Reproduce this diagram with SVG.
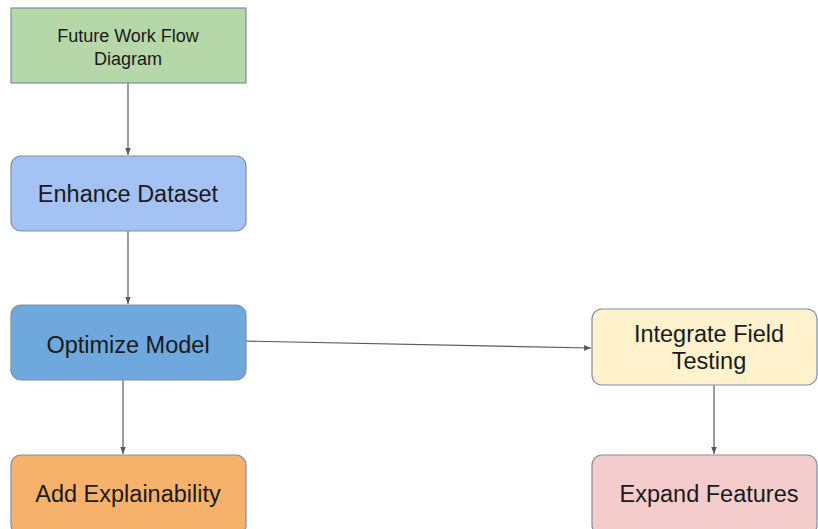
<svg xmlns="http://www.w3.org/2000/svg" width="818" height="529" viewBox="0 0 818 529">
  <defs>
    <marker id="arrow" viewBox="0 0 10 10" refX="10" refY="5" markerWidth="7" markerHeight="7" orient="auto" markerUnits="userSpaceOnUse">
      <path d="M0,1 L10,5 L0,9 z" fill="#595959"/>
    </marker>
    <style>
      .box { stroke: #7f8fa6; stroke-width: 1.2; }
      .lbl { font-family: "Liberation Sans", Arial, sans-serif; fill: #1a1a1a; text-anchor: middle; dominant-baseline: central; }
      .big { font-size: 23.5px; }
      .small { font-size: 18px; }
      .conn { stroke: #595959; stroke-width: 1.2; fill: none; marker-end: url(#arrow); }
    </style>
  </defs>
  <rect width="818" height="529" fill="#ffffff"/>

  <g id="connectors">
    <line class="conn" x1="128" y1="83" x2="128" y2="155"/>
    <line class="conn" x1="128" y1="231" x2="128" y2="304"/>
    <line class="conn" x1="123" y1="380" x2="123" y2="454"/>
    <line class="conn" x1="242" y1="341" x2="591" y2="348"/>
    <line class="conn" x1="714" y1="385" x2="714" y2="454"/>
  </g>

  <g id="future-work">
    <rect class="box" x="11" y="8" width="235" height="75" fill="#b6d7a8"/>
    <text class="lbl small" x="128" y="36">Future Work Flow</text>
    <text class="lbl small" x="128" y="59">Diagram</text>
  </g>

  <g id="enhance-dataset">
    <rect class="box" x="11" y="156" width="235" height="75" rx="10" fill="#a4c2f4"/>
    <text class="lbl big" x="128" y="194">Enhance Dataset</text>
  </g>

  <g id="optimize-model">
    <rect class="box" x="11" y="305" width="235" height="75" rx="10" fill="#6fa8dc"/>
    <text class="lbl big" x="128" y="345">Optimize Model</text>
  </g>

  <g id="add-explainability">
    <rect class="box" x="11" y="455" width="235" height="80" rx="10" fill="#f6b26b"/>
    <text class="lbl big" x="128" y="494">Add Explainability</text>
  </g>

  <g id="integrate-field-testing">
    <rect class="box" x="592" y="309" width="225" height="76" rx="10" fill="#fff2cc"/>
    <text class="lbl big" x="709" y="334">Integrate Field</text>
    <text class="lbl big" x="709" y="361">Testing</text>
  </g>

  <g id="expand-features">
    <rect class="box" x="592" y="455" width="225" height="80" rx="10" fill="#f4cccc"/>
    <text class="lbl big" x="709" y="494">Expand Features</text>
  </g>
</svg>
